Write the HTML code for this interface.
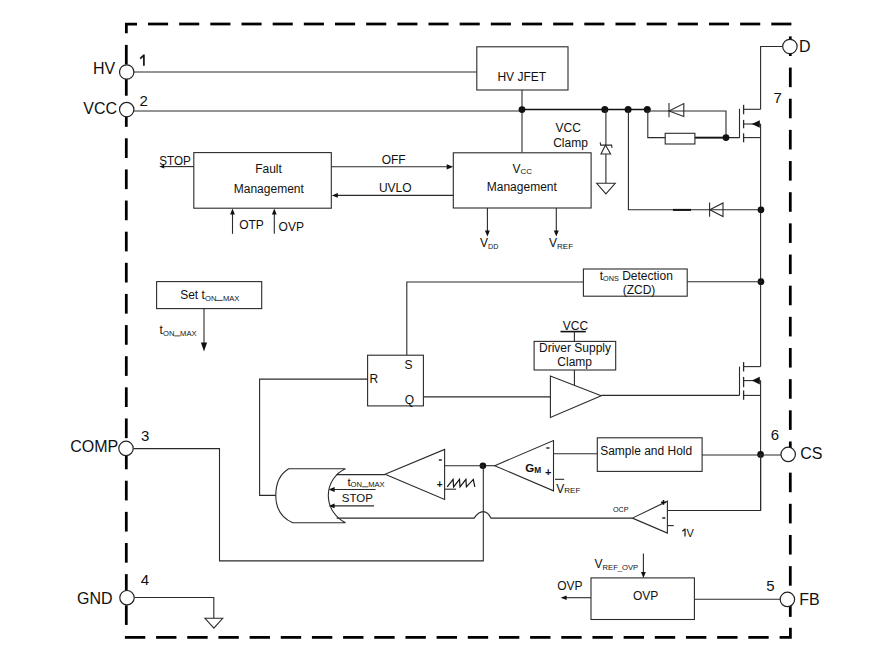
<!DOCTYPE html>
<html><head><meta charset="utf-8"><style>
html,body{margin:0;padding:0;background:#fff;}
body{width:894px;height:660px;overflow:hidden;}
svg{display:block;font-family:"Liberation Sans",sans-serif;}
text{fill:#111;}
</style></head><body>
<svg width="894" height="660" viewBox="0 0 894 660">
<rect x="0" y="0" width="894" height="660" fill="#fff"/>
<line x1="148.0" y1="24.0" x2="168.1" y2="24.0" stroke="#000" stroke-width="2.75"/>
<line x1="179.16" y1="24.0" x2="199.26" y2="24.0" stroke="#000" stroke-width="2.75"/>
<line x1="210.33" y1="24.0" x2="230.43" y2="24.0" stroke="#000" stroke-width="2.75"/>
<line x1="241.5" y1="24.0" x2="261.6" y2="24.0" stroke="#000" stroke-width="2.75"/>
<line x1="272.66" y1="24.0" x2="292.76" y2="24.0" stroke="#000" stroke-width="2.75"/>
<line x1="303.82" y1="24.0" x2="323.93" y2="24.0" stroke="#000" stroke-width="2.75"/>
<line x1="334.99" y1="24.0" x2="355.09" y2="24.0" stroke="#000" stroke-width="2.75"/>
<line x1="366.15" y1="24.0" x2="386.25" y2="24.0" stroke="#000" stroke-width="2.75"/>
<line x1="397.32" y1="24.0" x2="417.42" y2="24.0" stroke="#000" stroke-width="2.75"/>
<line x1="428.49" y1="24.0" x2="448.59" y2="24.0" stroke="#000" stroke-width="2.75"/>
<line x1="459.65" y1="24.0" x2="479.75" y2="24.0" stroke="#000" stroke-width="2.75"/>
<line x1="490.81" y1="24.0" x2="510.92" y2="24.0" stroke="#000" stroke-width="2.75"/>
<line x1="521.98" y1="24.0" x2="542.08" y2="24.0" stroke="#000" stroke-width="2.75"/>
<line x1="553.14" y1="24.0" x2="573.25" y2="24.0" stroke="#000" stroke-width="2.75"/>
<line x1="584.31" y1="24.0" x2="604.41" y2="24.0" stroke="#000" stroke-width="2.75"/>
<line x1="615.47" y1="24.0" x2="635.57" y2="24.0" stroke="#000" stroke-width="2.75"/>
<line x1="646.64" y1="24.0" x2="666.74" y2="24.0" stroke="#000" stroke-width="2.75"/>
<line x1="677.8" y1="24.0" x2="697.9" y2="24.0" stroke="#000" stroke-width="2.75"/>
<line x1="708.97" y1="24.0" x2="729.07" y2="24.0" stroke="#000" stroke-width="2.75"/>
<line x1="740.13" y1="24.0" x2="760.24" y2="24.0" stroke="#000" stroke-width="2.75"/>
<line x1="771.3" y1="24.0" x2="791.4" y2="24.0" stroke="#000" stroke-width="2.75"/>
<polyline points="126.35,33.3 126.35,24.0 137.0,24.0" fill="none" stroke="#000" stroke-width="2.75" stroke-linejoin="miter"/>
<line x1="126.3" y1="44.9" x2="126.3" y2="64.6" stroke="#000" stroke-width="2.75"/>
<line x1="126.3" y1="76.03" x2="126.3" y2="95.73" stroke="#000" stroke-width="2.75"/>
<line x1="126.3" y1="107.16" x2="126.3" y2="126.86" stroke="#000" stroke-width="2.75"/>
<line x1="126.3" y1="138.29" x2="126.3" y2="157.99" stroke="#000" stroke-width="2.75"/>
<line x1="126.3" y1="169.42" x2="126.3" y2="189.12" stroke="#000" stroke-width="2.75"/>
<line x1="126.3" y1="200.55" x2="126.3" y2="220.25" stroke="#000" stroke-width="2.75"/>
<line x1="126.3" y1="231.68" x2="126.3" y2="251.38" stroke="#000" stroke-width="2.75"/>
<line x1="126.3" y1="262.81" x2="126.3" y2="282.51" stroke="#000" stroke-width="2.75"/>
<line x1="126.3" y1="293.94" x2="126.3" y2="313.64" stroke="#000" stroke-width="2.75"/>
<line x1="126.3" y1="325.07" x2="126.3" y2="344.77" stroke="#000" stroke-width="2.75"/>
<line x1="126.3" y1="356.2" x2="126.3" y2="375.9" stroke="#000" stroke-width="2.75"/>
<line x1="126.3" y1="387.33" x2="126.3" y2="407.03" stroke="#000" stroke-width="2.75"/>
<line x1="126.3" y1="418.46" x2="126.3" y2="438.16" stroke="#000" stroke-width="2.75"/>
<line x1="126.3" y1="449.59" x2="126.3" y2="469.29" stroke="#000" stroke-width="2.75"/>
<line x1="126.3" y1="480.72" x2="126.3" y2="500.42" stroke="#000" stroke-width="2.75"/>
<line x1="126.3" y1="511.85" x2="126.3" y2="531.55" stroke="#000" stroke-width="2.75"/>
<line x1="126.3" y1="542.98" x2="126.3" y2="562.68" stroke="#000" stroke-width="2.75"/>
<line x1="126.3" y1="574.11" x2="126.3" y2="593.81" stroke="#000" stroke-width="2.75"/>
<line x1="126.3" y1="605.24" x2="126.3" y2="624.94" stroke="#000" stroke-width="2.75"/>
<line x1="124.9" y1="637.4" x2="145.3" y2="637.4" stroke="#000" stroke-width="2.75"/>
<line x1="156.07" y1="637.4" x2="176.47" y2="637.4" stroke="#000" stroke-width="2.75"/>
<line x1="187.24" y1="637.4" x2="207.64" y2="637.4" stroke="#000" stroke-width="2.75"/>
<line x1="218.41" y1="637.4" x2="238.81" y2="637.4" stroke="#000" stroke-width="2.75"/>
<line x1="249.58" y1="637.4" x2="269.98" y2="637.4" stroke="#000" stroke-width="2.75"/>
<line x1="280.75" y1="637.4" x2="301.15" y2="637.4" stroke="#000" stroke-width="2.75"/>
<line x1="311.92" y1="637.4" x2="332.32" y2="637.4" stroke="#000" stroke-width="2.75"/>
<line x1="343.09" y1="637.4" x2="363.49" y2="637.4" stroke="#000" stroke-width="2.75"/>
<line x1="374.26" y1="637.4" x2="394.66" y2="637.4" stroke="#000" stroke-width="2.75"/>
<line x1="405.43" y1="637.4" x2="425.83" y2="637.4" stroke="#000" stroke-width="2.75"/>
<line x1="436.6" y1="637.4" x2="457.0" y2="637.4" stroke="#000" stroke-width="2.75"/>
<line x1="467.77" y1="637.4" x2="488.17" y2="637.4" stroke="#000" stroke-width="2.75"/>
<line x1="498.94" y1="637.4" x2="519.34" y2="637.4" stroke="#000" stroke-width="2.75"/>
<line x1="530.11" y1="637.4" x2="550.51" y2="637.4" stroke="#000" stroke-width="2.75"/>
<line x1="561.28" y1="637.4" x2="581.68" y2="637.4" stroke="#000" stroke-width="2.75"/>
<line x1="592.45" y1="637.4" x2="612.85" y2="637.4" stroke="#000" stroke-width="2.75"/>
<line x1="623.62" y1="637.4" x2="644.02" y2="637.4" stroke="#000" stroke-width="2.75"/>
<line x1="654.79" y1="637.4" x2="675.19" y2="637.4" stroke="#000" stroke-width="2.75"/>
<line x1="685.96" y1="637.4" x2="706.36" y2="637.4" stroke="#000" stroke-width="2.75"/>
<line x1="717.13" y1="637.4" x2="737.53" y2="637.4" stroke="#000" stroke-width="2.75"/>
<line x1="748.3" y1="637.4" x2="768.7" y2="637.4" stroke="#000" stroke-width="2.75"/>
<polyline points="779.6,637.4 790.4,637.4 790.4,627.8" fill="none" stroke="#000" stroke-width="2.75" stroke-linejoin="miter"/>
<line x1="790.3" y1="36.4" x2="790.3" y2="56.0" stroke="#000" stroke-width="2.75"/>
<line x1="790.3" y1="67.56" x2="790.3" y2="87.16" stroke="#000" stroke-width="2.75"/>
<line x1="790.3" y1="98.72" x2="790.3" y2="118.32" stroke="#000" stroke-width="2.75"/>
<line x1="790.3" y1="129.88" x2="790.3" y2="149.48" stroke="#000" stroke-width="2.75"/>
<line x1="790.3" y1="161.04" x2="790.3" y2="180.64" stroke="#000" stroke-width="2.75"/>
<line x1="790.3" y1="192.2" x2="790.3" y2="211.8" stroke="#000" stroke-width="2.75"/>
<line x1="790.3" y1="223.36" x2="790.3" y2="242.96" stroke="#000" stroke-width="2.75"/>
<line x1="790.3" y1="254.52" x2="790.3" y2="274.12" stroke="#000" stroke-width="2.75"/>
<line x1="790.3" y1="285.68" x2="790.3" y2="305.28" stroke="#000" stroke-width="2.75"/>
<line x1="790.3" y1="316.84" x2="790.3" y2="336.44" stroke="#000" stroke-width="2.75"/>
<line x1="790.3" y1="348.0" x2="790.3" y2="367.6" stroke="#000" stroke-width="2.75"/>
<line x1="790.3" y1="379.16" x2="790.3" y2="398.76" stroke="#000" stroke-width="2.75"/>
<line x1="790.3" y1="410.32" x2="790.3" y2="429.92" stroke="#000" stroke-width="2.75"/>
<line x1="790.3" y1="441.48" x2="790.3" y2="461.08" stroke="#000" stroke-width="2.75"/>
<line x1="790.3" y1="472.64" x2="790.3" y2="492.24" stroke="#000" stroke-width="2.75"/>
<line x1="790.3" y1="503.8" x2="790.3" y2="523.4" stroke="#000" stroke-width="2.75"/>
<line x1="790.3" y1="534.96" x2="790.3" y2="554.56" stroke="#000" stroke-width="2.75"/>
<line x1="790.3" y1="566.12" x2="790.3" y2="585.72" stroke="#000" stroke-width="2.75"/>
<line x1="790.3" y1="597.28" x2="790.3" y2="616.88" stroke="#000" stroke-width="2.75"/>
<line x1="134" y1="72" x2="476.8" y2="72" stroke="#2a2a2a" stroke-width="1.1"/>
<line x1="134" y1="111" x2="522" y2="111" stroke="#2a2a2a" stroke-width="1.1"/>
<line x1="522" y1="109.5" x2="647.4" y2="109.5" stroke="#111" stroke-width="1.3"/>
<rect x="476.8" y="46.8" width="91.19999999999999" height="43.2" fill="#fff" stroke="#2a2a2a" stroke-width="1.1"/>
<text id="t1" x="521.8" y="80.5" font-size="12" text-anchor="middle" font-weight="normal" >HV JFET</text>
<line x1="522" y1="90" x2="522" y2="152.6" stroke="#2a2a2a" stroke-width="1.1"/>
<circle cx="522" cy="109.6" r="3.4" fill="#111"/>
<circle cx="604.8" cy="109.5" r="3.5" fill="#111"/>
<circle cx="628.1" cy="109.5" r="3.5" fill="#111"/>
<circle cx="647.3" cy="109.5" r="3.5" fill="#111"/>
<line x1="605.9" y1="110" x2="605.9" y2="183.3" stroke="#2a2a2a" stroke-width="1.1"/>
<polygon points="605.5,145.1 601,154 610.6,154" fill="#fff" stroke="#2a2a2a" stroke-width="1.1"/>
<polyline points="600.2,142.4 600.6,145.1 611.6,145.1 612,147.8" fill="none" stroke="#2a2a2a" stroke-width="1.1" stroke-linejoin="miter"/>
<polygon points="596.7,183.3 615.2,183.3 605.9,193.8" fill="#fff" stroke="#2a2a2a" stroke-width="1.1"/>
<polyline points="628.4,110 628.4,209.8 761,209.8" fill="none" stroke="#2a2a2a" stroke-width="1.1" stroke-linejoin="miter"/>
<line x1="673" y1="209.9" x2="691" y2="209.9" stroke="#111" stroke-width="2.0"/>
<polygon points="709.8,209.8 723,203 723,216.6" fill="none" stroke="#2a2a2a" stroke-width="1.1"/>
<line x1="709.6" y1="202.5" x2="709.6" y2="216.8" stroke="#2a2a2a" stroke-width="1.1"/>
<polyline points="647.4,111 726,111 726,137.6" fill="none" stroke="#2a2a2a" stroke-width="1.1" stroke-linejoin="miter"/>
<polygon points="669,111 683.8,103.6 683.8,116.4" fill="none" stroke="#2a2a2a" stroke-width="1.1"/>
<line x1="669" y1="103" x2="669" y2="117.2" stroke="#2a2a2a" stroke-width="1.1"/>
<polyline points="647.8,110 647.8,137.6 739.5,137.6" fill="none" stroke="#2a2a2a" stroke-width="1.1" stroke-linejoin="miter"/>
<line x1="695" y1="137.6" x2="724" y2="137.6" stroke="#111" stroke-width="1.8"/>
<rect x="665.2" y="133.3" width="29.699999999999932" height="10.699999999999989" fill="#fff" stroke="#2a2a2a" stroke-width="1.1"/>
<circle cx="726" cy="137.6" r="3.4" fill="#111"/>
<line x1="739.5" y1="108.8" x2="739.5" y2="137.8" stroke="#2a2a2a" stroke-width="1.1"/>
<line x1="743.6" y1="104.8" x2="743.6" y2="114.3" stroke="#2a2a2a" stroke-width="1.3"/>
<line x1="743.6" y1="119.9" x2="743.6" y2="128.3" stroke="#2a2a2a" stroke-width="1.3"/>
<line x1="743.6" y1="133.3" x2="743.6" y2="142.3" stroke="#2a2a2a" stroke-width="1.3"/>
<line x1="743.6" y1="109.3" x2="760.6" y2="109.3" stroke="#2a2a2a" stroke-width="1.1"/>
<line x1="743.6" y1="124" x2="760.6" y2="124" stroke="#2a2a2a" stroke-width="1.1"/>
<line x1="743.6" y1="137.6" x2="760.6" y2="137.6" stroke="#2a2a2a" stroke-width="1.1"/>
<polygon points="751.8,124 759.8,120.2 759.8,127.8" fill="#111"/>
<polyline points="760.6,109.3 760.6,46.5 782.7,46.5" fill="none" stroke="#2a2a2a" stroke-width="1.1" stroke-linejoin="miter"/>
<line x1="760.6" y1="124" x2="760.6" y2="366.6" stroke="#2a2a2a" stroke-width="1.1"/>
<circle cx="761" cy="209.8" r="3.4" fill="#111"/>
<circle cx="761" cy="281.7" r="3.4" fill="#111"/>
<line x1="739.5" y1="366.6" x2="739.5" y2="395.4" stroke="#2a2a2a" stroke-width="1.1"/>
<line x1="743.6" y1="362.1" x2="743.6" y2="371.5" stroke="#2a2a2a" stroke-width="1.3"/>
<line x1="743.6" y1="376.9" x2="743.6" y2="387.2" stroke="#2a2a2a" stroke-width="1.3"/>
<line x1="743.6" y1="390.4" x2="743.6" y2="399.8" stroke="#2a2a2a" stroke-width="1.3"/>
<line x1="743.6" y1="366.6" x2="760.6" y2="366.6" stroke="#2a2a2a" stroke-width="1.1"/>
<line x1="743.6" y1="380.6" x2="760.6" y2="380.6" stroke="#2a2a2a" stroke-width="1.1"/>
<line x1="743.6" y1="395.4" x2="760.6" y2="395.4" stroke="#2a2a2a" stroke-width="1.1"/>
<polygon points="751.8,380.6 759.8,376.8 759.8,384.40000000000003" fill="#111"/>
<line x1="760.6" y1="380.6" x2="760.6" y2="510" stroke="#2a2a2a" stroke-width="1.1"/>
<line x1="601.2" y1="395.4" x2="739.5" y2="395.4" stroke="#2a2a2a" stroke-width="1.1"/>
<circle cx="760.6" cy="454.4" r="3.4" fill="#111"/>
<rect x="193.8" y="152.6" width="137.5" height="55.599999999999994" fill="#fff" stroke="#2a2a2a" stroke-width="1.1"/>
<text id="t2" x="268.5" y="173" font-size="12" text-anchor="middle" font-weight="normal" >Fault</text>
<text id="t3" x="268.8" y="192.5" font-size="12" text-anchor="middle" font-weight="normal" >Management</text>
<text id="t4" x="159.2" y="164.8" font-size="13" text-anchor="start" font-weight="normal" textLength="31.6" lengthAdjust="spacingAndGlyphs">STOP</text>
<line x1="162" y1="166.6" x2="193.8" y2="166.6" stroke="#2a2a2a" stroke-width="1.1"/>
<polygon points="159.2,166.6 164.2,164.79999999999998 164.2,168.4" fill="#111"/>
<line x1="232.5" y1="233.8" x2="232.5" y2="212" stroke="#2a2a2a" stroke-width="1.1"/>
<polygon points="232.5,208.6 230.1,214.6 234.9,214.6" fill="#111"/>
<text id="t5" x="239.2" y="228.9" font-size="12" text-anchor="start" font-weight="normal" >OTP</text>
<line x1="274.3" y1="233.8" x2="274.3" y2="212" stroke="#2a2a2a" stroke-width="1.1"/>
<polygon points="274.3,208.6 271.90000000000003,214.6 276.7,214.6" fill="#111"/>
<text id="t6" x="278.6" y="230.9" font-size="12" text-anchor="start" font-weight="normal" >OVP</text>
<line x1="331.3" y1="166.8" x2="447" y2="166.8" stroke="#2a2a2a" stroke-width="1.1"/>
<polygon points="453.2,166.8 446.7,164.20000000000002 446.7,169.4" fill="#111"/>
<text id="t7" x="393.7" y="164" font-size="12" text-anchor="middle" font-weight="normal" >OFF</text>
<line x1="337" y1="195.4" x2="453.3" y2="195.4" stroke="#2a2a2a" stroke-width="1.1"/>
<polygon points="331.8,195.4 337.8,193.0 337.8,197.8" fill="#111"/>
<text id="t8" x="395.3" y="191.7" font-size="12" text-anchor="middle" font-weight="normal" >UVLO</text>
<rect x="453.3" y="152.8" width="137.8" height="55.19999999999999" fill="#fff" stroke="#2a2a2a" stroke-width="1.1"/>
<text id="t9" x="512.4" y="173.0" font-size="12" text-anchor="start" font-weight="normal" >V<tspan font-size="8" dy="0.8">CC</tspan></text>
<text id="t10" x="521.8" y="190.8" font-size="12" text-anchor="middle" font-weight="normal" >Management</text>
<line x1="487.4" y1="208" x2="487.4" y2="231" stroke="#2a2a2a" stroke-width="1.1"/>
<polygon points="487.4,236.6 484.9,230.6 489.9,230.6" fill="#111"/>
<line x1="556.3" y1="208" x2="556.3" y2="231" stroke="#2a2a2a" stroke-width="1.1"/>
<polygon points="556.3,236.6 553.8,230.6 558.8,230.6" fill="#111"/>
<text id="t11" x="480" y="247" font-size="12" text-anchor="start" font-weight="normal" >V<tspan font-size="7.2" dy="1.9">DD</tspan></text>
<text id="t12" x="549" y="247" font-size="12" text-anchor="start" font-weight="normal" >V<tspan font-size="8" dy="2.1">REF</tspan></text>
<text id="t13" x="568.2" y="132" font-size="12" text-anchor="middle" font-weight="normal" >VCC</text>
<text id="t14" x="570.5" y="146.5" font-size="12" text-anchor="middle" font-weight="normal" >Clamp</text>
<rect x="583.4" y="269" width="103.80000000000007" height="27.19999999999999" fill="#fff" stroke="#2a2a2a" stroke-width="1.1"/>
<line x1="687.2" y1="281.8" x2="761" y2="281.8" stroke="#2a2a2a" stroke-width="1.1"/>
<text id="t15" x="599.7" y="279.7" font-size="12" text-anchor="start" font-weight="normal" >t<tspan font-size="7.3" dy="0.9">ONS</tspan><tspan dy="-0.9"> Detection</tspan></text>
<text id="t16" x="639" y="293.8" font-size="12" text-anchor="middle" font-weight="normal" >(ZCD)</text>
<polyline points="583.4,282 406.8,282 406.8,355.2" fill="none" stroke="#2a2a2a" stroke-width="1.1" stroke-linejoin="miter"/>
<rect x="156.6" y="281.6" width="105.1" height="27.0" fill="#fff" stroke="#2a2a2a" stroke-width="1.1"/>
<text id="t17" x="180.2" y="299" font-size="12" text-anchor="start" font-weight="normal" >Set t</text>
<text id="t18" x="205.1" y="300.7" font-size="7.6" text-anchor="start" font-weight="normal" >ON</text>
<text id="t19" x="222.9" y="300.7" font-size="7.6" text-anchor="start" font-weight="normal" >MAX</text>
<line x1="215.7" y1="300.4" x2="222.8" y2="300.4" stroke="#333" stroke-width="0.9"/>
<line x1="204" y1="308.6" x2="204" y2="344" stroke="#2a2a2a" stroke-width="1.1"/>
<polygon points="204,351.6 200.9,342.6 207.1,342.6" fill="#111"/>
<text id="t20" x="159.6" y="334.3" font-size="12" text-anchor="start" font-weight="normal" >t</text>
<text id="t21" x="163.0" y="335.7" font-size="7.6" text-anchor="start" font-weight="normal" >ON</text>
<text id="t22" x="180.1" y="335.7" font-size="7.6" text-anchor="start" font-weight="normal" >MAX</text>
<line x1="174.3" y1="335.9" x2="180.4" y2="335.9" stroke="#333" stroke-width="0.9"/>
<rect x="367.6" y="355.2" width="55.799999999999955" height="50.69999999999999" fill="#fff" stroke="#2a2a2a" stroke-width="1.1"/>
<text id="t23" x="408.5" y="368.9" font-size="12" text-anchor="middle" font-weight="normal" >S</text>
<text id="t24" x="369.6" y="383.2" font-size="12" text-anchor="start" font-weight="normal" >R</text>
<text id="t25" x="409.4" y="403.6" font-size="12" text-anchor="middle" font-weight="normal" >Q</text>
<polyline points="367.6,379.1 259.6,379.1 259.6,495.4 275.8,495.4" fill="none" stroke="#2a2a2a" stroke-width="1.1" stroke-linejoin="miter"/>
<line x1="423.4" y1="396.9" x2="550.4" y2="396.9" stroke="#2a2a2a" stroke-width="1.1"/>
<rect x="534.1" y="341.4" width="81.60000000000002" height="28.600000000000023" fill="#fff" stroke="#2a2a2a" stroke-width="1.1"/>
<text id="t26" x="575" y="351.9" font-size="12" text-anchor="middle" font-weight="normal" >Driver Supply</text>
<text id="t27" x="574.7" y="365.9" font-size="12" text-anchor="middle" font-weight="normal" >Clamp</text>
<text id="t28" x="575.5" y="330.2" font-size="12" text-anchor="middle" font-weight="normal" >VCC</text>
<line x1="560.5" y1="331.6" x2="585.8" y2="331.6" stroke="#111" stroke-width="1.6"/>
<line x1="574.4" y1="331.5" x2="574.4" y2="341.4" stroke="#2a2a2a" stroke-width="1.1"/>
<line x1="574.4" y1="370" x2="574.4" y2="385.3" stroke="#2a2a2a" stroke-width="1.1"/>
<polygon points="550.4,376 550.4,417.4 601.2,395.7" fill="#fff" stroke="#2a2a2a" stroke-width="1.1"/>
<rect x="597.3" y="437.8" width="104.80000000000007" height="33.599999999999966" fill="#fff" stroke="#2a2a2a" stroke-width="1.1"/>
<text id="t29" x="600.2" y="454.9" font-size="12" text-anchor="start" font-weight="normal" textLength="92" lengthAdjust="spacingAndGlyphs">Sample and Hold</text>
<line x1="702.1" y1="455" x2="781" y2="455" stroke="#2a2a2a" stroke-width="1.1"/>
<line x1="553.5" y1="453.8" x2="597.3" y2="453.8" stroke="#2a2a2a" stroke-width="1.1"/>
<polygon points="553.5,440.6 553.5,490.8 494.7,465.7" fill="#fff" stroke="#2a2a2a" stroke-width="1.1"/>
<line x1="482.9" y1="465.7" x2="494.7" y2="465.7" stroke="#2a2a2a" stroke-width="1.1"/>
<circle cx="482.9" cy="465.7" r="3.3" fill="#111"/>
<text id="t30" x="525.3" y="472.4" font-size="11.5" text-anchor="start" font-weight="bold" >G<tspan font-size="8.3" dy="1">M</tspan></text>
<line x1="546.3" y1="448" x2="549.5" y2="448" stroke="#111" stroke-width="1.4"/>
<text id="t31" x="548.2" y="476.2" font-size="11" text-anchor="middle" font-weight="bold" >+</text>
<line x1="555" y1="479.3" x2="564.2" y2="479.3" stroke="#2a2a2a" stroke-width="1.1"/>
<text id="t32" x="556.3" y="492.7" font-size="12" text-anchor="start" font-weight="normal" >V<tspan font-size="8" dy="0.6">REF</tspan></text>
<polyline points="760.6,454.4 760.6,510.5 667.4,510.5" fill="none" stroke="#2a2a2a" stroke-width="1.1" stroke-linejoin="miter"/>
<polygon points="667.4,501.2 667.4,533.1 632.4,518.1" fill="#fff" stroke="#2a2a2a" stroke-width="1.1"/>
<line x1="661" y1="502.4" x2="666" y2="502.4" stroke="#111" stroke-width="1.5"/>
<line x1="663.5" y1="500" x2="663.5" y2="504.8" stroke="#111" stroke-width="1.5"/>
<line x1="662.3" y1="518" x2="665.3" y2="518" stroke="#111" stroke-width="1.4"/>
<line x1="667.4" y1="525.6" x2="673.8" y2="525.6" stroke="#2a2a2a" stroke-width="1.1"/>
<path d="M682.4,531.2 L685,528.9 M685,528.5 V536.6" fill="none" stroke="#111" stroke-width="1.2"/>
<text id="t33" x="686.6" y="536.6" font-size="11" text-anchor="start" font-weight="normal" >V</text>
<text id="t34" x="613" y="511.7" font-size="7.2" text-anchor="start" font-weight="normal" >OCP</text>
<path d="M632.3,518.1 H490.9 C488.5,513 486,511.6 483.3,511.6 C480.6,511.6 477.5,513 474.2,518.1 H336.6" fill="none" stroke="#2a2a2a" stroke-width="1.1"/>
<polygon points="444.6,449.4 444.6,499.5 385.1,474.3" fill="#fff" stroke="#2a2a2a" stroke-width="1.1"/>
<line x1="444.6" y1="465.8" x2="482.9" y2="465.8" stroke="#2a2a2a" stroke-width="1.1"/>
<line x1="438.9" y1="460" x2="441.8" y2="460" stroke="#111" stroke-width="1.4"/>
<text id="t35" x="439.6" y="488.2" font-size="10" text-anchor="middle" font-weight="bold" >+</text>
<line x1="444.8" y1="489.2" x2="456.1" y2="489.2" stroke="#2a2a2a" stroke-width="1.1"/>
<polyline points="447.2,486.8 453.1,479.4 453.6,486.8 459.5,479.4 460,486.8 465.9,479.4 466.4,486.8 473.3,479.4 474.8,486.8" fill="none" stroke="#111" stroke-width="1.2" stroke-linejoin="miter"/>
<line x1="385.1" y1="474.6" x2="336.6" y2="474.6" stroke="#2a2a2a" stroke-width="1.1"/>
<line x1="375.6" y1="489.5" x2="334" y2="489.5" stroke="#2a2a2a" stroke-width="1.1"/>
<polygon points="328.6,489.5 334.6,487.1 334.6,491.9" fill="#111"/>
<line x1="374" y1="505.9" x2="334" y2="505.9" stroke="#2a2a2a" stroke-width="1.1"/>
<polygon points="328.6,505.9 334.6,503.5 334.6,508.29999999999995" fill="#111"/>
<text id="t36" x="347.6" y="485.5" font-size="11.5" text-anchor="start" font-weight="normal" >t</text>
<text id="t37" x="350.5" y="486.7" font-size="7.6" text-anchor="start" font-weight="normal" >ON</text>
<text id="t38" x="368.2" y="486.7" font-size="7.6" text-anchor="start" font-weight="normal" >MAX</text>
<line x1="362.1" y1="486.8" x2="368.2" y2="486.8" stroke="#333" stroke-width="0.9"/>
<text id="t39" x="341.8" y="501.7" font-size="11.5" text-anchor="start" font-weight="normal" >STOP</text>
<path d="M345.5,468.8 H288.7 C280,474 275.8,484 275.8,495.6 C275.8,507 281,517.5 292.6,522.8 H345.5 C336,518 328.3,508 328.3,495.6 C328.3,483 336,473 345.5,468.8" fill="none" stroke="#2a2a2a" stroke-width="1.1"/>
<polyline points="133.4,448.6 219.5,448.6 219.5,560.9 483.3,560.9 483.3,465.7" fill="none" stroke="#2a2a2a" stroke-width="1.1" stroke-linejoin="miter"/>
<polyline points="134.5,597.5 213.8,597.5 213.8,618.3" fill="none" stroke="#2a2a2a" stroke-width="1.1" stroke-linejoin="miter"/>
<polygon points="205,618.3 222.7,618.3 213.85,628.2" fill="#fff" stroke="#2a2a2a" stroke-width="1.1"/>
<rect x="591" y="577.9" width="103.39999999999998" height="41.60000000000002" fill="#fff" stroke="#2a2a2a" stroke-width="1.1"/>
<text id="t40" x="645.7" y="600.4" font-size="12" text-anchor="middle" font-weight="normal" >OVP</text>
<line x1="694.4" y1="599.2" x2="780.2" y2="599.2" stroke="#2a2a2a" stroke-width="1.1"/>
<line x1="591" y1="597.7" x2="566" y2="597.7" stroke="#2a2a2a" stroke-width="1.1"/>
<polygon points="560.6,597.7 566.6,595.5 566.6,599.9000000000001" fill="#111"/>
<text id="t41" x="557.2" y="590.3" font-size="12" text-anchor="start" font-weight="normal" >OVP</text>
<line x1="643.4" y1="553.4" x2="643.4" y2="572" stroke="#2a2a2a" stroke-width="1.1"/>
<polygon points="643.4,577.9 641.0,571.9 645.8,571.9" fill="#111"/>
<text id="t42" x="594.6" y="567.8" font-size="12" text-anchor="start" font-weight="normal" >V<tspan font-size="7.6" dy="1.8">REF_OVP</tspan></text>
<circle cx="126.7" cy="72" r="7.2" fill="#fff" stroke="#222" stroke-width="1.2"/>
<circle cx="126.7" cy="109.6" r="7.2" fill="#fff" stroke="#222" stroke-width="1.2"/>
<circle cx="126.0" cy="448.4" r="7.2" fill="#fff" stroke="#222" stroke-width="1.2"/>
<circle cx="127.0" cy="597.7" r="7.2" fill="#fff" stroke="#222" stroke-width="1.2"/>
<circle cx="789.9" cy="46.5" r="7.2" fill="#fff" stroke="#222" stroke-width="1.2"/>
<circle cx="788.2" cy="454.4" r="7.2" fill="#fff" stroke="#222" stroke-width="1.2"/>
<circle cx="787.4" cy="599.4" r="7.2" fill="#fff" stroke="#222" stroke-width="1.2"/>
<text id="t43" x="115.2" y="74.2" font-size="16" text-anchor="end" font-weight="normal" >HV</text>
<text id="t44" x="117.0" y="114.0" font-size="16" text-anchor="end" font-weight="normal" >VCC</text>
<text id="t45" x="118.2" y="451.6" font-size="16" text-anchor="end" font-weight="normal" >COMP</text>
<text id="t46" x="112.5" y="603.5" font-size="16" text-anchor="end" font-weight="normal" >GND</text>
<text id="t47" x="798.9" y="51.8" font-size="16" text-anchor="start" font-weight="normal" >D</text>
<text id="t48" x="800.2" y="459.4" font-size="16" text-anchor="start" font-weight="normal" >CS</text>
<text id="t49" x="799.2" y="605.4" font-size="16" text-anchor="start" font-weight="normal" >FB</text>
<path d="M140.2,58.6 L143.9,55.2 M143.9,54.6 V65.7" fill="none" stroke="#111" stroke-width="1.7"/>
<text id="t50" x="139.4" y="106.0" font-size="15" text-anchor="start" font-weight="normal" >2</text>
<text id="t51" x="141" y="440.6" font-size="15" text-anchor="start" font-weight="normal" >3</text>
<text id="t52" x="140.8" y="584.7" font-size="15" text-anchor="start" font-weight="normal" >4</text>
<text id="t53" x="766.2" y="591.4" font-size="15" text-anchor="start" font-weight="normal" >5</text>
<text id="t54" x="770.7" y="439.8" font-size="15" text-anchor="start" font-weight="normal" >6</text>
<text id="t55" x="773.6" y="102.6" font-size="15" text-anchor="start" font-weight="normal" >7</text>
</svg>
</body></html>
